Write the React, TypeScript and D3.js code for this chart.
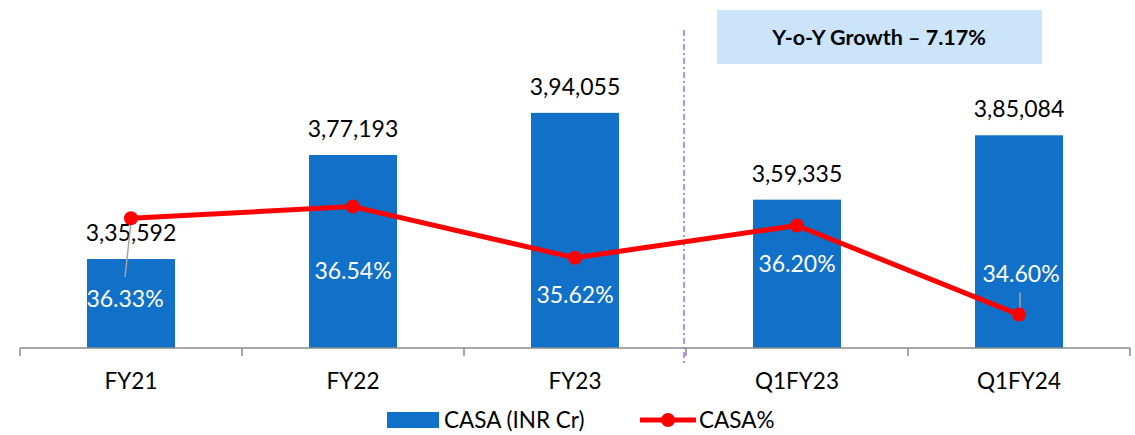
import React from "react";
import * as d3 from "d3";

const categories = ["FY21", "FY22", "FY23", "Q1FY23", "Q1FY24"];
const casaValues = [335592, 377193, 394055, 359335, 385084];
const casaLabels = ["3,35,592", "3,77,193", "3,94,055", "3,59,335", "3,85,084"];
const casaPct = [36.33, 36.54, 35.62, 36.2, 34.6];
const pctLabels = ["36.33%", "36.54%", "35.62%", "36.20%", "34.60%"];
// where the % label sits relative to its point (Excel placed them by hand)
const pctLabelDy = [89, 72, 45, 46, -33];
const pctLabelDx = [-6, 0, 0, 0, 2];
const growthText = "Y-o-Y Growth \u2013 7.17%";

const W = 1135;
const H = 435;
const FONT = "Lato, 'Open Sans', sans-serif";

export default function App() {
  const xOuter = d3.scaleBand().domain(categories).range([20, 1130]);
  const y = d3.scaleLinear().domain([300000, 420000]).range([348, 48]);
  const y2 = d3.scaleLinear().domain([34, 40]).range([348, 14]);

  const cx = (c: string) => (xOuter(c) as number) + xOuter.bandwidth() / 2;
  const line = d3
    .line<number>()
    .x((_, i) => cx(categories[i]))
    .y((d) => y2(d));

  const ticks = categories.map((c) => xOuter(c) as number).concat([1130]);
  const divX = (xOuter("Q1FY23") as number) - 2;

  return (
    <svg width={W} height={H} style={{ position: "absolute", left: 0, top: 0 }} fontFamily={FONT}>
      {/* bars */}
      {categories.map((c, i) => (
        <rect
          key={c}
          x={cx(c) - 44}
          y={y(casaValues[i])}
          width={88}
          height={y(300000) - y(casaValues[i])}
          fill="#1170C8"
        />
      ))}
      {/* axis */}
      <line x1={20} x2={1130} y1={348} y2={348} stroke="#8a8a8a" strokeWidth={1.5} />
      {ticks.map((t, i) => (
        <line key={i} x1={t} x2={t} y1={348} y2={356} stroke="#8a8a8a" strokeWidth={1.5} />
      ))}
      {categories.map((c) => (
        <text key={c} x={cx(c)} y={389} textAnchor="middle" fontSize={22.5} fill="#000">
          {c}
        </text>
      ))}
      {/* bar labels */}
      {categories.map((c, i) => (
        <text key={c} x={cx(c)} y={y(casaValues[i]) - 18} textAnchor="middle" fontSize={23} fill="#000">
          {casaLabels[i]}
        </text>
      ))}
      {/* divider */}
      <line x1={divX} x2={divX} y1={30} y2={366} stroke="#A56CD6" strokeWidth={1.5} strokeDasharray="6,3,2,3" />
      {/* growth box */}
      <rect x={717} y={10} width={325} height={54} fill="#CCE4FA" />
      <text x={879} y={45} textAnchor="middle" fontSize={21.5} fontWeight="bold" fill="#000">
        {growthText}
      </text>
      {/* leader lines */}
      <line x1={cx("FY21")} y1={y2(casaPct[0]) + 4} x2={cx("FY21") - 6} y2={277} stroke="#a6a6a6" strokeWidth={1.5} />
      <line x1={cx("Q1FY24") + 1} y1={y2(casaPct[4]) - 22} x2={cx("Q1FY24") + 1} y2={y2(casaPct[4]) - 3} stroke="#a6a6a6" strokeWidth={1.5} />
      {/* line series */}
      <path d={line(casaPct) as string} fill="none" stroke="#FF0000" strokeWidth={5} strokeLinejoin="round" />
      {casaPct.map((v, i) => (
        <circle key={i} cx={cx(categories[i])} cy={y2(v)} r={7} fill="#FF0000" />
      ))}
      {/* pct labels */}
      {casaPct.map((v, i) => (
        <text
          key={i}
          x={cx(categories[i]) + pctLabelDx[i]}
          y={y2(v) + pctLabelDy[i]}
          textAnchor="middle"
          fontSize={23}
          fill="#fff"
        >
          {pctLabels[i]}
        </text>
      ))}
      {/* legend */}
      <rect x={387} y={412} width={52} height={16} fill="#1170C8" />
      <text x={444} y={428} fontSize={22.5} fill="#000">
        CASA (INR Cr)
      </text>
      <line x1={640} x2={696} y1={420} y2={420} stroke="#FF0000" strokeWidth={5} />
      <circle cx={668} cy={420} r={7} fill="#FF0000" />
      <text x={699} y={428} fontSize={22.5} fill="#000">
        CASA%
      </text>
    </svg>
  );
}
